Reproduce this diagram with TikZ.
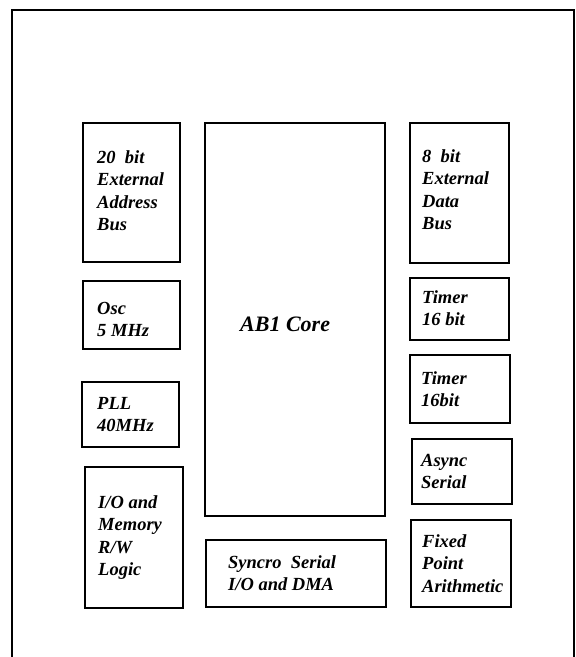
\documentclass[tikz,border=0pt]{standalone}
\usepackage{fontspec}
\setmainfont{Liberation Serif}
\newcommand\blk[1]{\vtop{\baselineskip=22.6pt\lineskiplimit=-20pt\halign{##\hfil\cr#1\crcr}}}
\newcommand\mybox[5]{\node[blockbox, minimum width={#4-#2}, minimum height={#5-#3}] (#1) at ({(#2+#4)/2},{(#3+#5)/2}) {};}
\tikzset{
  blockbox/.style={draw=black, line width=2.5pt, inner sep=0pt, outer sep=0pt, fill=none},
  lbl/.style={anchor=base west, inner sep=0pt, font=\fontsize{18.5}{22.6}\selectfont\bfseries\itshape},
  biglbl/.style={anchor=base west, inner sep=0pt, font=\fontsize{22}{26}\selectfont\bfseries\itshape},
  frame/.style={draw=black, line width=2.8pt}
}
\begin{document}
\begin{tikzpicture}[x=1pt, y=-1pt]
\useasboundingbox (0,0) rectangle (576,657);
% outer frame (open at the bottom)
\coordinate (fbl) at (12,657);
\coordinate (ftl) at (12,10);
\coordinate (ftr) at (574,10);
\coordinate (fbr) at (574,657);
\draw[frame] (fbl) -- (ftl) -- (ftr) -- (fbr);
% boxes
\mybox{addr}{83}{123}{180}{262}
\mybox{osc}{83}{281}{180}{349}
\mybox{pll}{82}{382}{179}{447}
\mybox{iomem}{85}{467}{183}{608}
\mybox{core}{205}{123}{385}{516}
\mybox{sync}{206}{540}{386}{607}
\mybox{data}{410}{123}{509}{263}
\mybox{timera}{410}{278}{509}{340}
\mybox{timerb}{410}{355}{510}{423}
\mybox{async}{412}{439}{512}{504}
\mybox{fixed}{411}{520}{511}{607}
% labels
\node[lbl] (taddr) at (97,163) {\blk{20\ \ bit\cr External\cr Address\cr Bus}};
\node[lbl] (tosc) at (97,314) {\blk{Osc\cr 5 MHz}};
\node[lbl] (tpll) at (97,409) {\blk{PLL\cr 40MHz}};
\node[lbl] (tiomem) at (98,508) {\blk{I/O and\cr Memory\cr R/W\cr Logic}};
\node[biglbl] (tcore) at (240,331) {AB1 Core};
\node[lbl] (tsync) at (228,568) {\blk{Syncro\ \ Serial\cr I/O and DMA}};
\node[lbl] (tdata) at (422,162) {\blk{8\ \ bit\cr External\cr Data\cr Bus}};
\node[lbl] (ttimera) at (422,303) {\blk{Timer\cr 16 bit}};
\node[lbl] (ttimerb) at (421,384) {\blk{Timer\cr 16bit}};
\node[lbl] (tasync) at (421,466) {\blk{Async\cr Serial}};
\node[lbl] (tfixed) at (422,547) {\blk{Fixed\cr Point\cr Arithmetic}};
\end{tikzpicture}
\end{document}
